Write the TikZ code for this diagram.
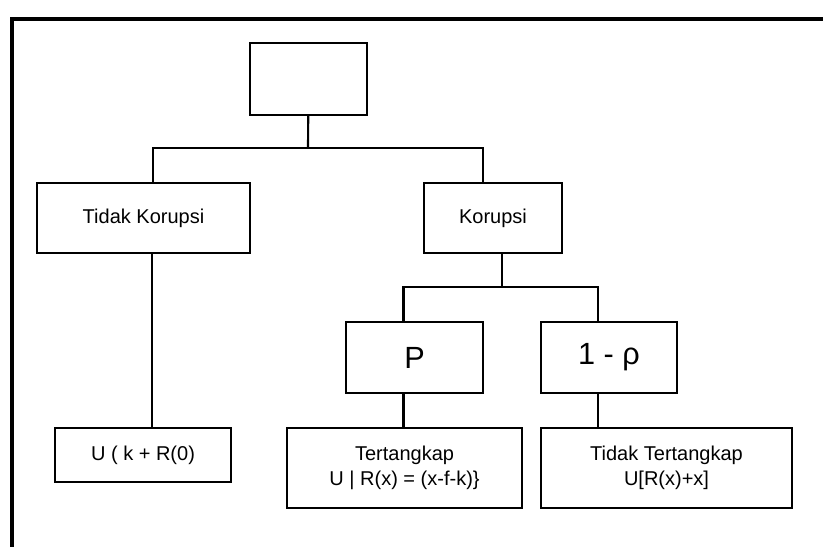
\documentclass[tikz,border=0pt]{standalone}
\usepackage{fontspec}
\setmainfont{Liberation Sans}
\usetikzlibrary{calc}

\begin{document}
\begin{tikzpicture}[x=0.75pt,y=-0.75pt,
  block/.style={rectangle,draw=black,line width=1.6pt,align=center,inner sep=0pt,font=\fontsize{15}{18.5}\selectfont},
  prob/.style={block,font=\fontsize{23}{27}\selectfont},
  link/.style={line width=1.6pt},
  frameline/.style={line width=2.4pt}
]
\useasboundingbox (0,0) rectangle (823,547);
% outer frame
\draw[frameline] (823,19) -| (12,547);
% boxes
\node[block,minimum width=87.75pt,minimum height=54pt] (top) at (308.5,79) {};
\node[block,minimum width=159.75pt,minimum height=52.5pt] (tk) at (143.5,218) {Tidak Korupsi};
\node[block,minimum width=103.5pt,minimum height=52.5pt] (kor) at (493,218) {Korupsi};
\node[prob,minimum width=102.75pt,minimum height=53.25pt] (p) at (414.5,357.5) {P};
\node[prob,minimum width=102pt,minimum height=53.25pt] (q) at (609,357.5) {1 - ρ};
\node[block,minimum width=132pt,minimum height=40.5pt] (ub) at (143,455) {U ( k + R(0)};
\node[block,minimum width=176.25pt,minimum height=60pt] (tert) at (404.5,468) {Tertangkap\\U | R(x) = (x-f-k)\}};
\node[block,minimum width=188.25pt,minimum height=60pt] (ntert) at (666.5,468) {Tidak Tertangkap\\U[R(x)+x]};
% connectors
\coordinate (b1) at (308,148);
\coordinate (b2) at (502,287);
\draw[link] (top) -- (b1);
\draw[link] (b1) -| ($(tk.north)+(9.5,0)$);
\draw[link] (b1) -| ($(kor.north)+(-10,0)$);
\draw[link] ($(tk.south)+(8.5,0)$) -- ($(ub.north)+(9,0)$);
\draw[link] ($(kor.south)+(9,0)$) -- (b2);
\draw[link] (b2) -| ($(p.north)+(-11,0)$);
\draw[link] (b2) -| ($(q.north)+(-11,0)$);
\draw[link] ($(p.south)+(-11,0)$) -- ($(tert.north)+(-1,0)$);
\draw[link] ($(q.south)+(-11,0)$) -- ($(ntert.north)+(-68.5,0)$);
\end{tikzpicture}
\end{document}
